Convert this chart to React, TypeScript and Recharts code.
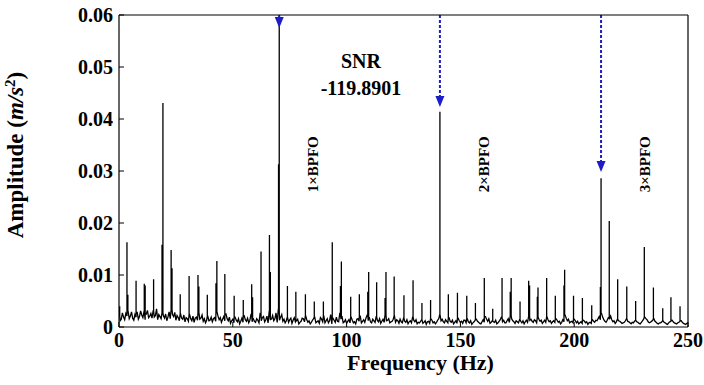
import { ComposedChart, Line, XAxis, YAxis, ReferenceLine, ReferenceDot, Label } from 'recharts';

// noise floor of the envelope spectrum, one value per Hz (0..250 Hz), m/s^2
const noiseFloor = [
  0.0022, 0.0015, 0.0019, 0.0026, 0.0030, 0.0021, 0.0017, 0.0024, 0.0028, 0.0020,
  0.0023, 0.0030, 0.0025, 0.0018, 0.0026, 0.0031, 0.0022, 0.0014, 0.0020, 0.0027,
  0.0017, 0.0012, 0.0029, 0.0033, 0.0020, 0.0013, 0.0018, 0.0026, 0.0015, 0.0010,
  0.0016, 0.0024, 0.0012, 0.0009, 0.0019, 0.0028, 0.0017, 0.0011, 0.0008, 0.0021,
  0.0013, 0.0010, 0.0018, 0.0030, 0.0014, 0.0009, 0.0020, 0.0025, 0.0012, 0.0007,
  0.0015, 0.0019, 0.0010, 0.0006, 0.0017, 0.0022, 0.0011, 0.0008, 0.0024, 0.0016,
  0.0009, 0.0013, 0.0026, 0.0018, 0.0010, 0.0021, 0.0030, 0.0015, 0.0012, 0.0027,
  0.0034, 0.0019, 0.0011, 0.0008, 0.0020, 0.0014, 0.0007, 0.0018, 0.0012, 0.0006,
  0.0011, 0.0016, 0.0022, 0.0009, 0.0006, 0.0013, 0.0019, 0.0010, 0.0007, 0.0015,
  0.0021, 0.0012, 0.0008, 0.0024, 0.0017, 0.0009, 0.0011, 0.0026, 0.0020, 0.0010,
  0.0007, 0.0014, 0.0019, 0.0008, 0.0006, 0.0016, 0.0021, 0.0011, 0.0009, 0.0023,
  0.0018, 0.0008, 0.0012, 0.0020, 0.0010, 0.0007, 0.0015, 0.0024, 0.0013, 0.0008,
  0.0011, 0.0022, 0.0014, 0.0007, 0.0010, 0.0017, 0.0009, 0.0006, 0.0012, 0.0019,
  0.0010, 0.0006, 0.0008, 0.0014, 0.0009, 0.0005, 0.0011, 0.0016, 0.0008, 0.0006,
  0.0013, 0.0025, 0.0015, 0.0008, 0.0011, 0.0018, 0.0009, 0.0006, 0.0012, 0.0017,
  0.0009, 0.0007, 0.0013, 0.0016, 0.0008, 0.0005, 0.0010, 0.0015, 0.0009, 0.0006,
  0.0014, 0.0020, 0.0011, 0.0007, 0.0012, 0.0009, 0.0006, 0.0011, 0.0019, 0.0013,
  0.0008, 0.0016, 0.0022, 0.0012, 0.0007, 0.0010, 0.0014, 0.0008, 0.0006, 0.0013,
  0.0021, 0.0015, 0.0009, 0.0012, 0.0019, 0.0011, 0.0007, 0.0013, 0.0020, 0.0010,
  0.0007, 0.0012, 0.0016, 0.0009, 0.0006, 0.0014, 0.0023, 0.0012, 0.0008, 0.0011,
  0.0015, 0.0008, 0.0006, 0.0010, 0.0013, 0.0008, 0.0005, 0.0009, 0.0014, 0.0009,
  0.0012, 0.0020, 0.0026, 0.0014, 0.0009, 0.0018, 0.0021, 0.0010, 0.0007, 0.0015,
  0.0011, 0.0007, 0.0009, 0.0016, 0.0010, 0.0006, 0.0008, 0.0013, 0.0009, 0.0006,
  0.0012, 0.0019, 0.0014, 0.0008, 0.0011, 0.0016, 0.0009, 0.0006, 0.0008, 0.0012,
  0.0008, 0.0005, 0.0010, 0.0013, 0.0008, 0.0006, 0.0009, 0.0012, 0.0007, 0.0005,
  0.0008,
];

// noise floor read between the whole-Hz points (0.5, 1.5, ... 249.5 Hz), m/s^2
const noiseFloorMid = [
  0.0012, 0.0027, 0.0014, 0.0021, 0.0016, 0.0029, 0.0013, 0.0019, 0.0015, 0.0031,
  0.0018, 0.0014, 0.0032, 0.0021, 0.0017, 0.0019, 0.0035, 0.0024, 0.0016, 0.0022,
  0.0025, 0.0019, 0.0016, 0.0024, 0.0028, 0.0022, 0.0012, 0.0017, 0.0023, 0.0018,
  0.0011, 0.0016, 0.0021, 0.0017, 0.0013, 0.0015, 0.0023, 0.0016, 0.0013, 0.0012,
  0.0019, 0.0016, 0.0011, 0.0021, 0.0018, 0.0015, 0.0012, 0.0016, 0.0019, 0.0012,
  0.0008, 0.0013, 0.0016, 0.0011, 0.0009, 0.0014, 0.0017, 0.0013, 0.0010, 0.0011,
  0.0016, 0.0008, 0.0012, 0.0020, 0.0014, 0.0008, 0.0013, 0.0022, 0.0016, 0.0009,
  0.0013, 0.0024, 0.0015, 0.0012, 0.0009, 0.0017, 0.0013, 0.0010, 0.0015, 0.0009,
  0.0017, 0.0010, 0.0014, 0.0012, 0.0009, 0.0016, 0.0008, 0.0012, 0.0018, 0.0010,
  0.0008, 0.0016, 0.0012, 0.0006, 0.0013, 0.0019, 0.0010, 0.0015, 0.0008, 0.0014,
  0.0011, 0.0008, 0.0013, 0.0010, 0.0015, 0.0011, 0.0008, 0.0014, 0.0017, 0.0012,
  0.0010, 0.0015, 0.0009, 0.0013, 0.0016, 0.0011, 0.0009, 0.0012, 0.0016, 0.0010,
  0.0015, 0.0009, 0.0012, 0.0015, 0.0008, 0.0011, 0.0014, 0.0010, 0.0008, 0.0013,
  0.0014, 0.0009, 0.0011, 0.0007, 0.0012, 0.0010, 0.0007, 0.0013, 0.0010, 0.0009,
  0.0016, 0.0012, 0.0010, 0.0014, 0.0008, 0.0011, 0.0013, 0.0009, 0.0007, 0.0012,
  0.0011, 0.0013, 0.0008, 0.0010, 0.0012, 0.0008, 0.0013, 0.0011, 0.0007, 0.0010,
  0.0009, 0.0015, 0.0016, 0.0009, 0.0010, 0.0013, 0.0008, 0.0014, 0.0010, 0.0008,
  0.0012, 0.0009, 0.0016, 0.0010, 0.0012, 0.0008, 0.0011, 0.0012, 0.0010, 0.0009,
  0.0013, 0.0011, 0.0014, 0.0008, 0.0015, 0.0013, 0.0010, 0.0009, 0.0014, 0.0012,
  0.0010, 0.0009, 0.0013, 0.0011, 0.0009, 0.0010, 0.0017, 0.0015, 0.0010, 0.0008,
  0.0012, 0.0011, 0.0008, 0.0007, 0.0011, 0.0010, 0.0008, 0.0007, 0.0011, 0.0013,
  0.0016, 0.0014, 0.0019, 0.0011, 0.0013, 0.0015, 0.0014, 0.0012, 0.0010, 0.0012,
  0.0009, 0.0008, 0.0012, 0.0011, 0.0008, 0.0009, 0.0011, 0.0010, 0.0007, 0.0009,
  0.0015, 0.0016, 0.0010, 0.0009, 0.0013, 0.0011, 0.0007, 0.0008, 0.0010, 0.0009,
  0.0006, 0.0008, 0.0011, 0.0010, 0.0007, 0.0008, 0.0011, 0.0009, 0.0006, 0.0007,
];

// spectral lines: frequency (Hz) and amplitude (m/s^2)
const peakFreqs = [
  0.3, 3.5, 3.9, 7.5, 11.1, 11.5, 15.2, 18.9, 19.3, 22.9, 23.3, 26.9, 30.8, 34.7, 35.1,
  38.8, 42.6, 43.0, 46.5, 50.6, 54.6, 58.3, 58.7, 62.4, 66.1, 66.5, 70.1, 70.4, 74.0,
  77.7, 81.9, 85.8, 89.8, 93.7, 97.3, 97.7, 101.8, 105.6, 109.3, 109.7, 113.2, 116.9,
  117.3, 120.9, 125.2, 129.2, 133.1, 136.9, 141.0, 144.7, 148.7, 152.8, 156.6, 160.5,
  164.2, 168.3, 171.9, 172.3, 176.2, 180.0, 180.4, 183.8, 184.1, 187.9, 191.7, 195.5,
  195.8, 199.7, 203.6, 207.7, 211.5, 211.8, 215.4, 219.1, 223.1, 227.0, 230.8, 234.8,
  238.9, 242.5, 246.5,
];
const peakAmps = [
  0.0040, 0.0163, 0.0062, 0.0089, 0.0083, 0.0080, 0.0092, 0.0158, 0.0431, 0.0148, 0.0113,
  0.0063, 0.0098, 0.0100, 0.0078, 0.0062, 0.0084, 0.0127, 0.0102, 0.0060, 0.0052, 0.0082,
  0.0057, 0.0145, 0.0177, 0.0106, 0.0313, 0.0598, 0.0079, 0.0068, 0.0063, 0.0049, 0.0049,
  0.0163, 0.0079, 0.0126, 0.0058, 0.0063, 0.0068, 0.0106, 0.0086, 0.0056, 0.0106, 0.0097,
  0.0061, 0.0090, 0.0046, 0.0052, 0.0414, 0.0063, 0.0066, 0.0060, 0.0046, 0.0094, 0.0035,
  0.0094, 0.0068, 0.0094, 0.0049, 0.0089, 0.0080, 0.0058, 0.0076, 0.0094, 0.0060, 0.0080,
  0.0110, 0.0060, 0.0056, 0.0042, 0.0077, 0.0286, 0.0204, 0.0092, 0.0078, 0.0050, 0.0154,
  0.0076, 0.0036, 0.0057, 0.0040,
];

const xTicks = [0, 50, 100, 150, 200, 250];
const yTicks = [0, 0.01, 0.02, 0.03, 0.04, 0.05, 0.06];

// BPFO harmonics marked with arrows
const harmonicNames = ['1×BPFO', '2×BPFO', '3×BPFO'];
const harmonicFreqs = [70.4, 141.0, 211.8];
const arrowTips = [0.0575, 0.0423, 0.0298];
const harmonicLabelFreqs = [85.2, 160.4, 231.1];
const harmonicLabelLevel = 0.0313;

const snrLines = ['SNR', '-119.8901'];
const snrFreq = 106.3;
const snrLevels = [0.0498, 0.0446];

const spectrum: { f: number; a: number }[] = [];
noiseFloor.forEach((a, i) => spectrum.push({ f: i, a }));
noiseFloorMid.forEach((a, i) => spectrum.push({ f: i + 0.5, a }));
peakFreqs.forEach((f, i) => {
  const base = noiseFloor[Math.round(f)];
  spectrum.push({ f, a: base }, { f, a: peakAmps[i] }, { f, a: base });
});
spectrum.sort((p, q) => p.f - q.f);

const FONT = '"Liberation Serif", "Times New Roman", serif';
const BLUE = '#1c1cc8';

const XTick = ({ x, y, payload }: any) => (
  <text x={x} y={y} dy="0.71em" textAnchor="middle" fontFamily={FONT} fontWeight="bold" fontSize={20} fill="#000">
    {payload.value}
  </text>
);

const YTick = ({ x, y, payload }: any) => (
  <text x={x} y={y} dy="0.35em" textAnchor="end" fontFamily={FONT} fontWeight="bold" fontSize={20} fill="#000">
    {payload.value === 0 ? '0' : payload.value.toFixed(2)}
  </text>
);

const XTitle = ({ viewBox }: any) => (
  <text
    x={viewBox.x + viewBox.width / 2 + 17}
    y={viewBox.y + 43}
    textAnchor="middle"
    fontFamily={FONT}
    fontWeight="bold"
    fontSize={22}
    fill="#000"
  >
    Frequency (Hz)
  </text>
);

const YTitle = ({ viewBox }: any) => {
  const cx = 23;
  const cy = viewBox.y + viewBox.height / 2 - 16;
  return (
    <text
      x={cx}
      y={cy}
      transform={`rotate(-90 ${cx} ${cy})`}
      textAnchor="middle"
      fontFamily={FONT}
      fontWeight="bold"
      fontSize={23}
      fill="#000"
    >
      Amplitude (<tspan fontStyle="italic">m/s</tspan>
      <tspan dy={-8} fontSize={15}>2</tspan>
      <tspan dy={8}>)</tspan>
    </text>
  );
};

const Arrow = ({ x1, y1, x2, y2 }: any) => {
  const head = 11;
  return (
    <g>
      <line x1={x1} y1={y1} x2={x2} y2={y2 - head} stroke={BLUE} strokeWidth={2} strokeDasharray="3 2" />
      <polygon points={`${x2 - 4.5},${y2 - head} ${x2 + 4.5},${y2 - head} ${x2},${y2}`} fill={BLUE} />
    </g>
  );
};

const annotationText = (text: string, size: number, rotate: boolean) => ({ cx, cy }: any) => (
  <text
    x={cx}
    y={cy}
    transform={rotate ? `rotate(-90 ${cx} ${cy})` : undefined}
    textAnchor="middle"
    dominantBaseline={rotate ? 'central' : undefined}
    fontFamily={FONT}
    fontWeight="bold"
    fontSize={size}
    fill="#000"
  >
    {text}
  </text>
);

export default function App() {
  return (
    <div style={{ position: 'absolute', left: 0, top: 0, background: '#fff' }}>
      <ComposedChart width={704} height={385} data={spectrum} margin={{ top: 14, right: 15, bottom: 0, left: 0 }}>
        <XAxis
          xAxisId="bottom"
          dataKey="f"
          type="number"
          domain={[0, 250]}
          ticks={xTicks}
          allowDataOverflow
          height={58}
          tickSize={-5}
          tickMargin={11}
          tick={<XTick />}
          axisLine={{ stroke: '#000', strokeWidth: 1.2 }}
          tickLine={{ stroke: '#000' }}
        >
          <Label content={XTitle} />
        </XAxis>
        <XAxis
          xAxisId="top"
          orientation="top"
          dataKey="f"
          type="number"
          domain={[0, 250]}
          ticks={xTicks}
          allowDataOverflow
          height={1}
          tickSize={-5}
          tick={false}
          axisLine={{ stroke: '#000', strokeWidth: 1.2 }}
          tickLine={{ stroke: '#000' }}
        />
        <YAxis
          yAxisId="left"
          type="number"
          domain={[0, 0.06]}
          ticks={yTicks}
          allowDataOverflow
          width={119}
          tickSize={-5}
          tickMargin={11}
          tick={<YTick />}
          axisLine={{ stroke: '#000', strokeWidth: 1.2 }}
          tickLine={{ stroke: '#000' }}
        >
          <Label content={YTitle} />
        </YAxis>
        <YAxis
          yAxisId="right"
          orientation="right"
          type="number"
          domain={[0, 0.06]}
          ticks={yTicks}
          allowDataOverflow
          width={1}
          tickSize={-5}
          tick={false}
          axisLine={{ stroke: '#000', strokeWidth: 1.2 }}
          tickLine={{ stroke: '#000' }}
        />
        <Line
          xAxisId="bottom"
          yAxisId="left"
          type="linear"
          dataKey="a"
          stroke="#000"
          strokeWidth={1.3}
          dot={false}
          activeDot={false}
          isAnimationActive={false}
        />
        {harmonicFreqs.map((f, i) => (
          <ReferenceLine
            key={`arrow-${i}`}
            xAxisId="bottom"
            yAxisId="left"
            segment={[{ x: f, y: 0.06 }, { x: f, y: arrowTips[i] }]}
            shape={Arrow}
          />
        ))}
        {harmonicNames.map((name, i) => (
          <ReferenceDot
            key={`hl-${i}`}
            xAxisId="bottom"
            yAxisId="left"
            x={harmonicLabelFreqs[i]}
            y={harmonicLabelLevel}
            r={0}
            shape={annotationText(name, 15, true)}
          />
        ))}
        {snrLines.map((t, i) => (
          <ReferenceDot
            key={`snr-${i}`}
            xAxisId="bottom"
            yAxisId="left"
            x={snrFreq}
            y={snrLevels[i]}
            r={0}
            shape={annotationText(t, 20, false)}
          />
        ))}
      </ComposedChart>
    </div>
  );
}
